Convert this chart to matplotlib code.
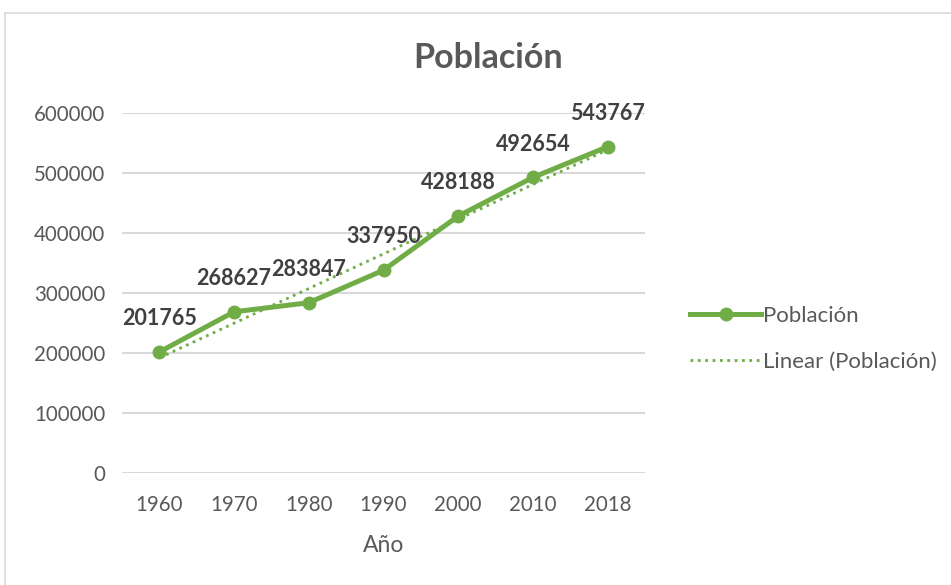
import matplotlib
import numpy as np
import matplotlib.pyplot as plt
from matplotlib.patches import Rectangle

matplotlib.use('Agg')

# datos
anios = ['1960', '1970', '1980', '1990', '2000', '2010', '2018']
poblacion = [201765, 268627, 283847, 337950, 428188, 492654, 543767]
y_ticks = [0, 100000, 200000, 300000, 400000, 500000, 600000]

verde = '#70AD47'
gris_texto = '#595959'

plt.rcParams['font.family'] = ['Lato', 'DejaVu Sans']

fig = plt.figure(figsize=(9.51, 5.85), dpi=100)
ax = fig.add_axes([122 / 951, 1 - 473 / 585, 523 / 951, 360 / 585])

x = np.arange(len(anios))
ax.plot(x, poblacion, '-o', color=verde, lw=3.6, ms=9, label='Población', zorder=3)

# tendencia lineal como en Excel (x = 1..n)
k, b = np.polyfit(x + 1, poblacion, 1)
ax.plot(x, k * (x + 1) + b, ':', color=verde, lw=2, label='Linear (Población)', zorder=2)

for xi, v in zip(x, poblacion):
    ax.annotate(str(v), (xi, v), xytext=(0, 24), textcoords='offset points',
                ha='center', va='center', fontsize=15.5, fontweight='bold', color='#404040')

ax.set_xlim(-0.5, len(anios) - 0.5)
ax.set_ylim(0, 600000)
ax.set_xticks(x)
ax.set_xticklabels(anios)
ax.set_yticks(y_ticks)
ax.set_yticklabels([str(t) for t in y_ticks])
ax.tick_params(length=0, labelsize=14.8, colors=gris_texto)
ax.tick_params(axis='x', pad=16)
ax.tick_params(axis='y', pad=12)
ax.grid(axis='y', color='#d9d9d9', lw=1.5)
ax.set_axisbelow(True)
for s in ax.spines.values():
    s.set_visible(False)

ax.set_xlabel('Año', fontsize=16.5, color=gris_texto, labelpad=14)
fig.text(488 / 951, 1 - 58 / 585, 'Población', ha='center', va='center',
         fontsize=24.5, fontweight='bold', color=gris_texto)

fig.legend(loc='center left', bbox_to_anchor=(679 / 951, 1 - 339 / 585), frameon=False,
           fontsize=16, labelcolor=gris_texto, handlelength=3.2, handletextpad=0.1,
           labelspacing=1.15, borderpad=0)

fig.patches.append(Rectangle((5 / 951, -0.1), 1.1, 1.1 - 13 / 585, transform=fig.transFigure,
                             fill=False, edgecolor='#d9d9d9', lw=1.2))

fig.savefig('out.png', dpi=100)
